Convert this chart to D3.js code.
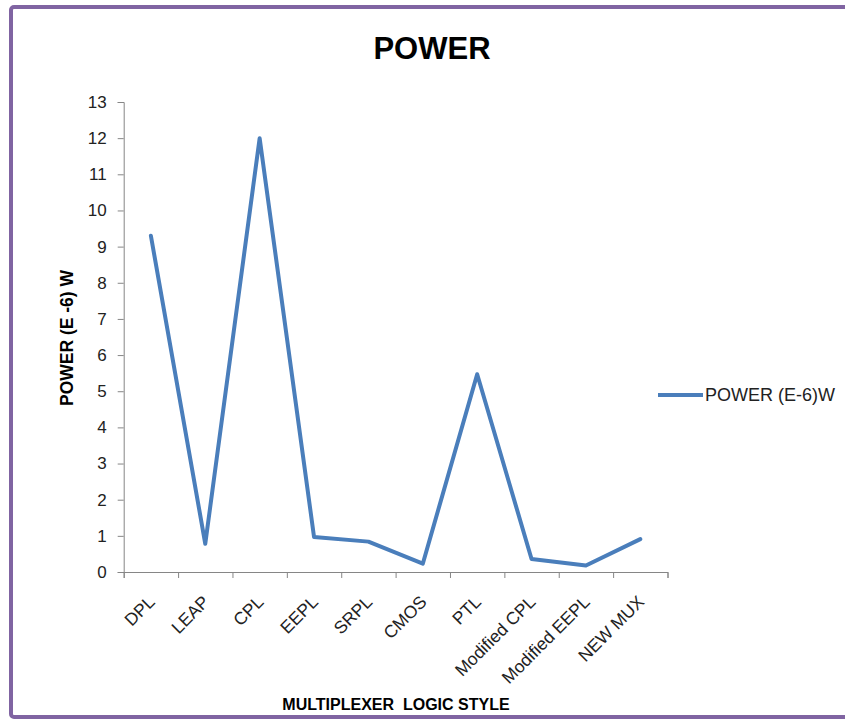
<!DOCTYPE html>
<html>
<head>
<meta charset="utf-8">
<script src="https://cdn.jsdelivr.net/npm/d3@7"></script>
<style>
  html, body { margin: 0; padding: 0; background: #fff; }
  svg { display: block; }
  text { font-family: "Liberation Sans", Arial, sans-serif; }
</style>
</head>
<body>
<svg id="chart" width="845" height="720"></svg>
<script>
const categories = ["DPL", "LEAP", "CPL", "EEPL", "SRPL", "CMOS", "PTL", "Modified CPL", "Modified EEPL", "NEW MUX"];
const powerValues = [9.3, 0.78, 12.0, 0.97, 0.84, 0.23, 5.47, 0.36, 0.18, 0.91];
const yTicks = [0, 1, 2, 3, 4, 5, 6, 7, 8, 9, 10, 11, 12, 13];
const seriesName = "POWER (E-6)W";
const chartTitle = "POWER";
const yTitle = "POWER (E -6) W";
const xTitle = "MULTIPLEXER  LOGIC STYLE";

const svg = d3.select("#chart");

// frame
svg.append("rect")
  .attr("x", 11).attr("y", 7)
  .attr("width", 860).attr("height", 710)
  .attr("rx", 3)
  .attr("fill", "#fff")
  .attr("stroke", "#8064A2")
  .attr("stroke-width", 4);

const plot = { left: 123.7, right: 667.5, top: 102, bottom: 572 };

const x = d3.scaleBand().domain(categories).range([plot.left, plot.right]).padding(0);
const y = d3.scaleLinear().domain([0, 13]).range([plot.bottom, plot.top]);

// title
svg.append("text")
  .attr("x", 432).attr("y", 59)
  .attr("text-anchor", "middle")
  .attr("font-size", 31).attr("font-weight", "bold")
  .attr("fill", "#000")
  .text(chartTitle);

// y axis
const yAxis = svg.append("g")
  .attr("transform", `translate(${plot.left},0)`)
  .call(d3.axisLeft(y).tickValues(yTicks).tickSize(6).tickPadding(11).tickFormat(d3.format("d")));
yAxis.select(".domain").attr("stroke", "#868686");
yAxis.selectAll(".tick line").attr("stroke", "#868686");
yAxis.selectAll(".tick text")
  .attr("font-size", 17)
  .attr("fill", "#222")
  .style("font-family", "'Liberation Sans', Arial, sans-serif");

// x axis: tick marks at category boundaries
const xIdx = d3.scaleLinear().domain([0, categories.length]).range([plot.left, plot.right]);
const xAxis = svg.append("g")
  .attr("transform", `translate(0,${plot.bottom})`)
  .call(d3.axisBottom(xIdx).tickValues(d3.range(categories.length + 1)).tickSize(6).tickFormat(""));
xAxis.select(".domain").attr("stroke", "#868686");
xAxis.selectAll(".tick line").attr("stroke", "#868686");

// x labels (rotated)
svg.append("g").selectAll("text")
  .data(categories)
  .join("text")
  .attr("transform", d => `translate(${x(d) + x.bandwidth() / 2 + 5},${plot.bottom + 31}) rotate(-45)`)
  .attr("text-anchor", "end")
  .attr("font-size", 17.5)
  .attr("fill", "#222")
  .text(d => d);

// axis titles
svg.append("text")
  .attr("transform", "translate(73,338) rotate(-90)")
  .attr("text-anchor", "middle")
  .attr("font-size", 17.5).attr("font-weight", "bold")
  .attr("fill", "#000")
  .text(yTitle);

svg.append("text")
  .attr("x", 396).attr("y", 710)
  .attr("text-anchor", "middle")
  .attr("font-size", 16).attr("font-weight", "bold")
  .attr("fill", "#000")
  .attr("xml:space", "preserve")
  .style("white-space", "pre")
  .text(xTitle);

// line
const line = d3.line()
  .x((d, i) => x(categories[i]) + x.bandwidth() / 2)
  .y(d => y(d));

svg.append("path")
  .datum(powerValues)
  .attr("d", line)
  .attr("fill", "none")
  .attr("stroke", "#4A7EBB")
  .attr("stroke-width", 4)
  .attr("stroke-linejoin", "round")
  .attr("stroke-linecap", "round");

// legend
const lg = svg.append("g").attr("transform", "translate(658,395)");
lg.append("line")
  .attr("x1", 0).attr("x2", 45).attr("y1", 0).attr("y2", 0)
  .attr("stroke", "#4A7EBB").attr("stroke-width", 4);
lg.append("text")
  .attr("x", 47).attr("y", 6)
  .attr("font-size", 18)
  .attr("fill", "#222")
  .text(seriesName);
</script>
</body>
</html>
